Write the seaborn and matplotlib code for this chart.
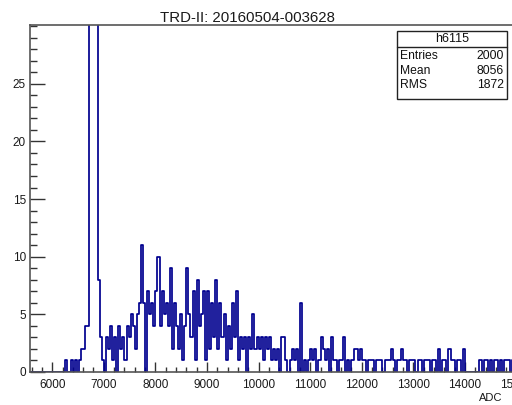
import numpy as np
import pandas as pd
import matplotlib
matplotlib.use("Agg")
import matplotlib.pyplot as plt
from matplotlib.patches import Rectangle
from matplotlib.lines import Line2D
import seaborn as sns

sns.set_style("white")
plt.rcParams['font.family'] = ['Liberation Sans', 'DejaVu Sans']

# Histogram binning (ADC)
bin_start = 5560
bin_width = 40

# Counts per bin (bins 0-49)
counts_a = [0, 0, 0, 0, 0, 0, 0, 0, 0, 0, 0, 0, 0, 0, 0, 0, 0,
            1, 0, 0, 1, 0, 1, 0, 1, 2, 2, 4, 4, 45, 95, 120, 60, 8,
            3, 1, 0, 3, 2, 4, 1, 3, 0, 4, 2, 3, 1, 4, 3, 5]
# bins 50-99
counts_b = [4, 2, 5, 6, 11, 6, 0, 7, 5, 6, 4, 7, 10, 4, 7, 5, 6, 4, 9, 2,
            6, 4, 2, 5, 1, 4, 9, 5, 3, 7, 1, 8, 4, 5, 7, 1, 7, 2, 6, 3,
            8, 2, 6, 3, 5, 1, 4, 2, 6, 3]
# bins 100-149
counts_c = [7, 1, 3, 2, 3, 0, 3, 2, 5, 2, 3, 2, 3, 1, 3, 2, 3, 1, 2, 1,
            2, 0, 3, 3, 1, 0, 1, 2, 1, 2, 0, 6, 0, 1, 0, 1, 2, 1, 2, 0,
            1, 3, 2, 1, 2, 0, 3, 1, 1, 0]
# bins 150-199
counts_d = [1, 1, 3, 0, 1, 0, 1, 2, 2, 1, 2, 1, 1, 0, 1, 1, 1, 0, 1, 1,
            1, 0, 1, 1, 1, 2, 1, 0, 1, 1, 2, 1, 1, 0, 1, 1, 1, 0, 1, 1,
            0, 1, 1, 1, 0, 1, 1, 0, 2, 0]
# bins 200-248
counts_e = [1, 1, 0, 2, 1, 1, 0, 1, 1, 0, 2, 0, 0, 0, 0, 0, 0, 0, 1, 0,
            1, 1, 0, 1, 0, 1, 1, 0, 1, 0, 1, 1, 1, 0, 1, 0, 0, 0, 0, 0,
            0, 0, 0, 0, 0, 0, 0, 0, 0]

x_ticks = [6000, 7000, 8000, 9000, 10000, 11000, 12000, 13000, 14000, 15000]
y_ticks = [0, 5, 10, 15, 20, 25]

title = "TRD-II: 20160504-003628"
stats_name = "h6115"
stats_labels = ["Entries", "Mean", "RMS"]
stats_values = ["2000", "8056", "1872"]

counts = np.array(counts_a + counts_b + counts_c + counts_d + counts_e, dtype=float)
n_bins = len(counts)
centers = bin_start + bin_width * (np.arange(n_bins) + 0.5)
df = pd.DataFrame({"adc": centers, "n": counts})

W, H = 512, 405
fig = plt.figure(figsize=(W / 100, H / 100), dpi=100)
ax = fig.add_axes([29.5 / W, (H - 372) / H, 512.9 / W, 347 / H])

line_col = "#00008f"
sns.histplot(data=df, x="adc", weights="n", binwidth=bin_width,
             binrange=(bin_start, bin_start + bin_width * n_bins),
             element="step", fill=False, color=line_col, linewidth=1.25, ax=ax)

ax.set_xlim(5560, 15500)
ax.set_ylim(0, 30.1)
ax.set_xlabel("")
ax.set_ylabel("")

frame_col = "#555555"
for side in ["left", "bottom", "top", "right"]:
    ax.spines[side].set_color(frame_col)
    ax.spines[side].set_linewidth(1.2)

ax.set_xticks(x_ticks)
ax.set_xticklabels([str(v) for v in x_ticks])
ax.set_xticks(np.arange(5600, 15501, 200), minor=True)
ax.set_yticks(y_ticks)
ax.set_yticklabels([str(v) for v in y_ticks])
ax.set_yticks(np.arange(0, 31, 1), minor=True)

ax.tick_params(axis="x", which="major", direction="in", length=7, width=1.0,
               color="#333333", labelsize=8.5, pad=5, top=False, bottom=True)
ax.tick_params(axis="x", which="minor", direction="in", length=3.5, width=1.0,
               color="#333333", top=False, bottom=True)
ax.tick_params(axis="y", which="major", direction="in", length=10.5, width=1.0,
               color="#333333", labelsize=8.5, pad=2.5, left=True, right=False)
ax.tick_params(axis="y", which="minor", direction="in", length=5, width=1.0,
               color="#333333", left=True, right=False)
for lab in ax.get_xticklabels() + ax.get_yticklabels():
    lab.set_color("#1a1a1a")

# Title
fig.text(247 / W, 1 - 18 / H, title, ha="center", va="center",
         fontsize=10.8, color="#1a1a1a")

# Axis title
fig.text(502 / W, 1 - 398 / H, "ADC", ha="right", va="center",
         fontsize=8, color="#1a1a1a")

# Stats box
bx0, bx1, by0, by1 = 397, 507, 31, 99
fig.add_artist(Rectangle((bx0 / W, 1 - by1 / H), (bx1 - bx0) / W, (by1 - by0) / H,
                         transform=fig.transFigure, facecolor="white",
                         edgecolor="#222222", linewidth=1.0))
fig.add_artist(Line2D([bx0 / W, bx1 / W], [1 - 47 / H, 1 - 47 / H],
                      transform=fig.transFigure, color="#222222", linewidth=1.0))
fig.text((bx0 + bx1) / 2 / W, 1 - 39 / H, stats_name, ha="center", va="center",
         fontsize=9, color="#111111")
for k, (lab, val) in enumerate(zip(stats_labels, stats_values)):
    yy = 1 - (56 + 14.5 * k) / H
    fig.text(400 / W, yy, lab, ha="left", va="center", fontsize=8.7, color="#111111")
    fig.text(504 / W, yy, val, ha="right", va="center", fontsize=8.7, color="#111111")

fig.savefig("out.png", dpi=100)
